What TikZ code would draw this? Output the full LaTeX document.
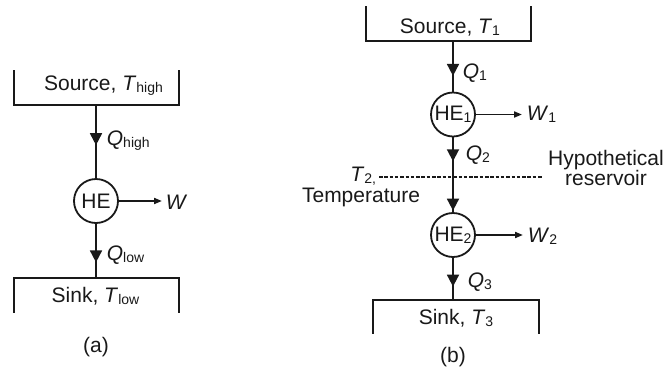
\documentclass[tikz,border=0pt]{standalone}
\usepackage{fontspec}
\setmainfont{Liberation Sans}
\usetikzlibrary{arrows.meta,decorations.markings}
\definecolor{inkGray}{RGB}{25,25,25}
\newcommand{\lsub}[1]{\raisebox{-0.2ex}{\fontsize{14}{14}\selectfont #1}}

\begin{document}
\begin{tikzpicture}[x=1pt,y=-1pt,
    font=\fontsize{21}{20}\selectfont,
    line width=1.8pt, draw=inkGray, text=inkGray,
    reservoir/.style={minimum width=163pt, minimum height=33pt, inner sep=0pt},
    engine/.style={circle, draw, minimum size=44pt, inner sep=0pt},
    heatflow/.style={postaction={decorate, decoration={markings,
        mark=at position #1 with {\arrow{Triangle[length=12pt,width=12pt]}}}}},
    workflow/.style={-{Triangle[length=8pt,width=6pt]}},
    hypo/.style={line width=1.3pt, dash pattern=on 3.5pt off 1.8pt}]
  \useasboundingbox (0,0) rectangle (667,368);

  % (a) single engine
  \node[reservoir] (srcA) at (96.5,87.5) {};
  \draw (srcA.north west) -- (srcA.south west) -- (srcA.south east) -- (srcA.north east);
  \node[anchor=base] (srcAtxt) at (103.5,90.5) {Source, \textit{T}\lsub{high}};

  \node[engine] (heA) at (96,201) {HE};

  \node[reservoir] (sinkA) at (96.5,295.5) {};
  \draw (sinkA.south west) -- (sinkA.north west) -- (sinkA.north east) -- (sinkA.south east);
  \node[anchor=base] (sinkAtxt) at (95.5,302.5) {Sink, \textit{T}\lsub{low}};

  \draw[heatflow=0.55] (srcA.south -| heA.north) -- (heA.north);
  \draw[heatflow=0.71] (heA.south) -- (sinkA.north -| heA.south);
  \node[anchor=base west, inner sep=0pt] (qhigh) at (106,145.5) {\textit{Q}\lsub{high}};
  \node[anchor=base west, inner sep=0pt] (qlow) at (106,260.5) {\textit{Q}\lsub{low}};

  \node[anchor=base west, inner sep=3pt] (wA) at (162,209.5) {\textit{W}};
  \draw[workflow] (heA.east) -- (heA.east -| wA.west);

  \node (capA) at (96,347) {(a)};

  % (b) two engines in series
  \node[reservoir] (srcB) at (448.5,23.5) {};
  \draw (srcB.north west) -- (srcB.south west) -- (srcB.south east) -- (srcB.north east);
  \node[anchor=base] (srcBtxt) at (450,33) {Source, \textit{T}\lsub{1}};

  \node[engine] (heB1) at (453,114.5) {HE\lsub{1}};
  \node[engine] (heB2) at (453,235) {HE\lsub{2}};

  \node[reservoir, minimum width=164pt, minimum height=32pt] (sinkB) at (456,317) {};
  \draw (sinkB.south west) -- (sinkB.north west) -- (sinkB.north east) -- (sinkB.south east);
  \node[anchor=base] (sinkBtxt) at (456,324.5) {Sink, \textit{T}\lsub{3}};

  \draw[heatflow=0.69] (srcB.south -| heB1.north) -- (heB1.north);
  \draw[heatflow=0.32, heatflow=0.98] (heB1.south) -- (heB2.north);
  \draw[heatflow=0.68] (heB2.south) -- (sinkB.north -| heB2.south);
  \node[anchor=base west, inner sep=0pt] (q1) at (462,78.5) {\textit{Q}\lsub{1}};
  \node[anchor=base west, inner sep=0pt] (q2) at (465,160.5) {\textit{Q}\lsub{2}};
  \node[anchor=base west, inner sep=0pt] (q3) at (467,287.5) {\textit{Q}\lsub{3}};

  \node[anchor=base west, inner sep=4pt] (w1) at (522,120.5) {\textit{W}\lsub{1}};
  \node[anchor=base west, inner sep=4pt] (w2) at (523,242.5) {\textit{W}\lsub{2}};
  \draw[workflow] (heB1.east) -- (heB1.east -| w1.west);
  \draw[workflow] (heB2.east) -- (heB2.east -| w2.west);

  % hypothetical reservoir between the engines
  \coordinate (resL) at (379,177);
  \coordinate (resR) at (543,177);
  \draw[hypo] (resL) -- (resR);
  \node[anchor=base east, inner sep=0pt] (t2) at (377,181) {\textit{T}\lsub{2,}};
  \node[anchor=base, inner sep=0pt] (tempLbl) at (361,202) {Temperature};
  \node[anchor=base, align=center] (hypoLbl) at (606,185.5) {Hypothetical\\reservoir};

  \node (capB) at (453,357) {(b)};
\end{tikzpicture}
\end{document}
